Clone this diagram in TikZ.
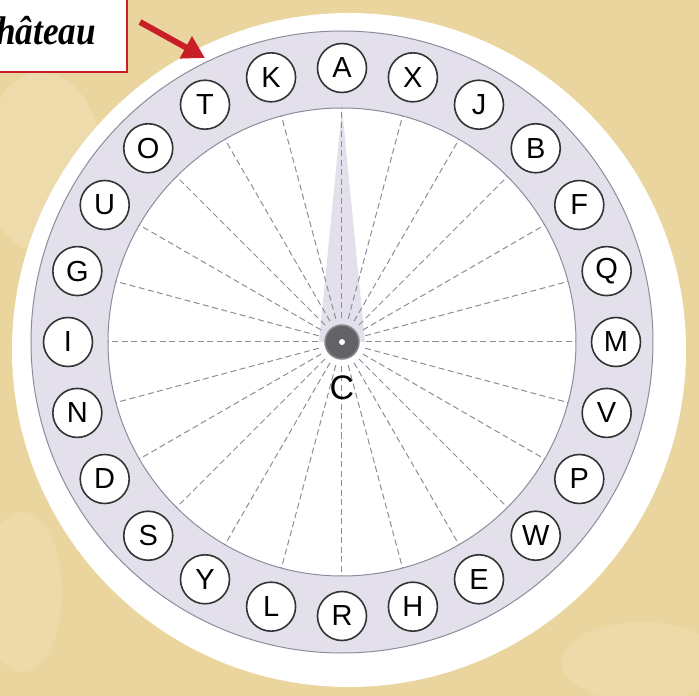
\documentclass[tikz,border=0pt]{standalone}
\usepackage{fontspec}
\setsansfont{Liberation Sans}
\newfontfamily\handfont{Liberation Serif}
\usetikzlibrary{calc,arrows.meta,positioning}
\definecolor{parch}{HTML}{EBD59E}
\definecolor{ringx}{HTML}{E3E0EB}
\definecolor{edgex}{HTML}{8E8C9C}
\definecolor{redx}{HTML}{C81E28}
\definecolor{dotx}{HTML}{626267}
\tikzset{
  letter/.style={circle,draw=black!80,line width=1.6pt,fill=white,minimum size=49pt,inner sep=0pt,font=\sffamily\fontsize{29}{30}\selectfont},
  spoke/.style={edgex,line width=1pt,dash pattern=on 6pt off 3.5pt},
  ar/.style={-{Triangle[length=22pt,width=24pt]},line width=6pt,redx}
}
\begin{document}
\begin{tikzpicture}[x=1pt,y=1pt]
\def\rout{311pt}\def\rin{234pt}\def\rlet{274pt}
\fill[parch] (-342,-354) rectangle (357,342);
\useasboundingbox (-342,-354) rectangle (357,342);
% parchment patches
\fill[white,opacity=0.15] (-300,180) ellipse (60pt and 90pt);
\fill[white,opacity=0.12] (-320,-250) ellipse (40pt and 80pt);
\fill[white,opacity=0.12] (300,-320) ellipse (80pt and 40pt);
\coordinate (O) at (0,0);
% disc and ring
\fill[white] (7,-8) circle (337pt);
\fill[ringx,even odd rule] (O) circle (\rout) (O) circle (\rin);
\draw[edgex,line width=1pt] (O) circle (\rout) (O) circle (\rin);
\fill[ringx] (-23,0) -- (0,234) -- (23,0) -- cycle;
\foreach \a in {0,15,...,345} \draw[spoke] (\a:24pt) -- (\a:\rin);
\foreach \l [count=\i from 0] in {A,X,J,B,F,Q,M,V,P,W,E,H,R,L,Y,S,D,N,I,G,U,O,T,K}
  \node[letter] (l-\l) at ({90-15*\i}:\rlet) {\l};
\filldraw[fill=dotx,draw=dotx!75,line width=1.5pt] (O) circle (17pt);
\fill[white] (O) circle (3pt);
\node[font=\sffamily\fontsize{34}{36}\selectfont] (lblC) at (0,-46) {C};
% label box
\draw[redx,line width=2.5pt,fill=white] (-360,360) rectangle (-215,270);
\node[anchor=base east,font=\handfont\bfseries\itshape\fontsize{40}{40}\selectfont,xscale=0.88] (word) at (-243,297) {château};
\coordinate (arS) at (-202,320); \coordinate (arE) at (-137,284);
\draw[ar] (arS) -- (arE);
\end{tikzpicture}
\end{document}
